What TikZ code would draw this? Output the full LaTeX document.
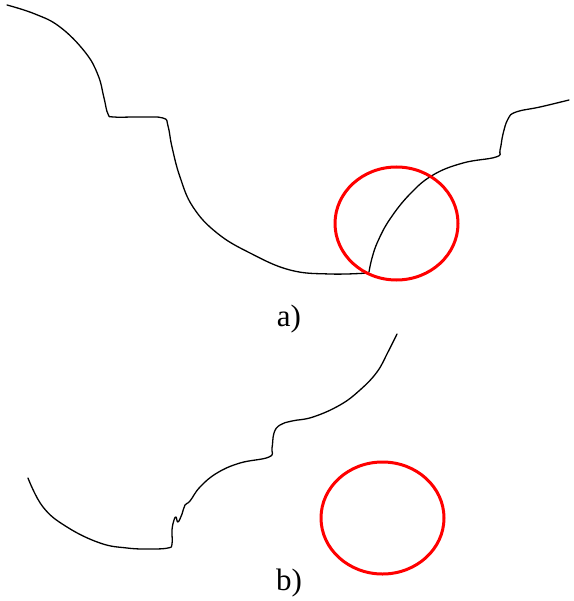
\documentclass[tikz,border=0pt]{standalone}
\usepackage{fontspec}
\setmainfont{Liberation Serif}
\usepackage{tikz}
\tikzset{contour/.style={black, line width=1.3pt, line join=round, line cap=round},
  mark circle/.style={red, line width=3pt},
  part label/.style={font=\fontsize{31}{31}\selectfont, inner sep=0pt}}

\begin{document}
\begin{tikzpicture}[x=1pt, y=-1pt]
\useasboundingbox (0,0) rectangle (573,601);
% a) two pieces meeting at the break
\draw[contour] plot[smooth, tension=0.7] coordinates {(7,5) (35,14) (60,27) (85,52) (98,75) (104,98) (108,114) (114,117) (140,117) (163,118) (168,126) (172,147) (180,177) (193,207) (217,233) (250,253) (290,270) (330,274) (368,273)};
\draw[contour] plot[smooth, tension=0.7] coordinates {(369,272) (372,258) (378,241) (390,219) (410,194) (433,175) (463,163) (496,157) (500,150) (503,134) (508,119) (516,112) (540,107) (569,100)};
\draw[mark circle] (396.5,223.5) ellipse [x radius=61.5, y radius=56.5];
\node[part label] (lblA) at (289,319) {a)};
% b) piece after removal
\draw[contour] plot[smooth, tension=0.7] coordinates {(28,478) (43,507) (67,527) (100,543) (127,548) (150,549) (168,548) (172,544) (172,530) (174,520) (176,517) (178,522) (182,514) (185,505) (190,501) (200,487) (217,473) (240,463) (269,457) (272,448) (274,433) (280,425) (292,421) (313,417) (340,405) (360,390) (377,372) (388,352) (397,334)};
\draw[mark circle] (382.5,518) ellipse [x radius=61.5, y radius=56];
\node[part label] (lblB) at (289,583) {b)};
\end{tikzpicture}
\end{document}
